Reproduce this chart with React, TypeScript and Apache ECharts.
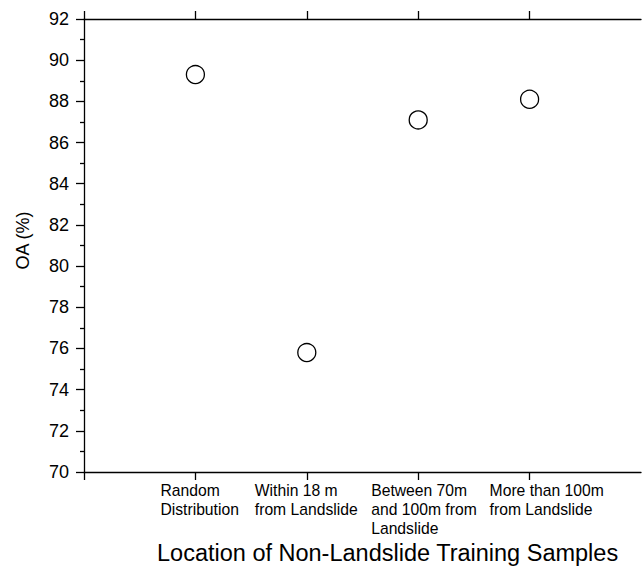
import React, { useEffect, useRef } from "react";
import * as echarts from "echarts";

const categories = [
  "",
  "Random\nDistribution",
  "Within 18 m\nfrom Landslide",
  "Between 70m\nand 100m from\nLandslide",
  "More than 100m\nfrom Landslide",
  "",
];
const oaValues: (number | null)[] = [null, 89.3, 75.8, 87.1, 88.1, null];
const yMin = 70;
const yMax = 92;
const yInterval = 2;
const yAxisName = "OA (%)";
const xAxisTitle = "Location of Non-Landslide Training Samples";

const FONT = "'Liberation Sans', Arial, Helvetica, sans-serif";

export default function App() {
  const ref = useRef<HTMLDivElement>(null);
  useEffect(() => {
    if (!ref.current) return;
    const chart = echarts.init(ref.current, undefined, { renderer: "svg", width: 644, height: 566 });
    const points = categories
      .map((c, i) => [c, oaValues[i]])
      .filter((p) => p[1] != null);
    const labelRich: any = {
      c1: { width: 80, align: "left", padding: [0, 0, 0, 10] },
      c2: { width: 103, align: "left", padding: [0, 1, 0, 0] },
      c3: { width: 107, align: "left", padding: [0, 0, 0, 13] },
      c4: { width: 116, align: "left", padding: [0, 0, 0, 36] },
    };
    Object.keys(labelRich).forEach((k) => {
      Object.assign(labelRich[k], {
        fontSize: 15.7,
        lineHeight: 19,
        fontFamily: FONT,
        color: "#000",
      });
    });
    const axisLine = { show: true, lineStyle: { color: "#000", width: 1.3 } };
    const tick = {
      show: true,
      inside: false,
      length: 8,
      interval: (index: number) => index < categories.length - 1,
      lineStyle: { color: "#000", width: 1.3 },
    };
    chart.setOption({
      animation: false,
      backgroundColor: "#fff",
      grid: { left: 84, top: 19, width: 562, height: 453, containLabel: false },
      xAxis: [
        {
          type: "category",
          data: categories,
          boundaryGap: false,
          position: "bottom",
          axisLine,
          axisTick: tick,
          splitLine: { show: false },
          axisLabel: {
            show: true,
            interval: 0,
            margin: 9,
            align: "center",
            formatter: (v: string, idx: number) =>
              v
                ? v
                    .split("\n")
                    .map((l) => `{c${idx}|${l}}`)
                    .join("\n")
                : "",
            rich: labelRich,
          },
        },
        {
          type: "category",
          data: categories,
          boundaryGap: false,
          position: "top",
          axisLine,
          axisTick: tick,
          axisLabel: { show: false },
          splitLine: { show: false },
        },
      ],
      yAxis: {
        type: "value",
        min: yMin,
        max: yMax,
        interval: yInterval,
        name: yAxisName,
        nameLocation: "middle",
        nameGap: 52,
        nameTextStyle: { fontSize: 18, fontFamily: FONT, color: "#000", padding: [0, 0, 0, 10] },
        axisLine,
        axisTick: { show: true, inside: false, length: 8, lineStyle: { color: "#000", width: 1.3 } },
        minorTick: { show: true, splitNumber: 2, length: 4, lineStyle: { color: "#000", width: 1.3 } },
        splitLine: { show: false },
        axisLabel: { fontSize: 18, fontFamily: FONT, color: "#000", margin: 15 },
      },
      graphic: [
        {
          type: "text",
          left: 157,
          top: 541,
          style: { text: xAxisTitle, font: `23.5px ${FONT}`, fill: "#000" },
        },
      ],
      series: [
        {
          type: "scatter",
          data: points,
          symbol: "circle",
          symbolSize: 18,
          itemStyle: { color: "#fff", borderColor: "#000", borderWidth: 1.3, opacity: 1 },
        },
      ],
    });
    return () => chart.dispose();
  }, []);
  return (
    <div
      ref={ref}
      style={{ position: "absolute", left: 0, top: 0, width: 644, height: 566, overflow: "hidden" }}
    />
  );
}
